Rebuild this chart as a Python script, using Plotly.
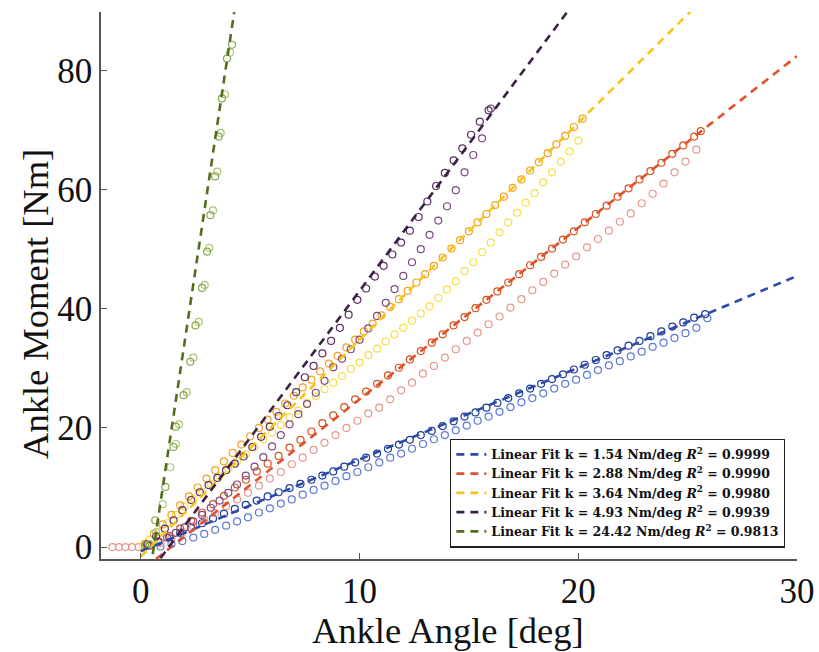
import plotly.graph_objects as go

# ---------------- data ----------------
fit_names = ["1.54", "2.88", "3.64", "4.93", "24.42"]
fit_r2 = ["0.9999", "0.9990", "0.9980", "0.9939", "0.9813"]
fit_k = [1.54, 2.88, 3.64, 4.93, 24.42]
fit_b = [-0.7, -4.0, -1.6, -6.3, -14.5]
fit_x0 = [0.0, 0.7, 0.0, 0.9, 0.45]
fit_x1 = [30.0, 30.0, 25.2, 19.5, 4.27]

# blue series
blue_up_x = [0.3, 0.8, 1.3, 1.8, 2.3, 2.8, 3.3, 3.8, 4.3, 4.8, 5.3, 5.8, 6.3, 6.8, 7.3, 7.8, 8.3, 8.8,
             9.3, 9.8, 10.3, 10.8, 11.3, 11.8, 12.3, 12.8, 13.3, 13.8, 14.3, 14.8, 15.3, 15.8, 16.3,
             16.8, 17.3, 17.8, 18.3, 18.8, 19.3, 19.8, 20.3, 20.8, 21.3, 21.8, 22.3, 22.8, 23.3, 23.8,
             24.3, 24.8, 25.3, 25.8]
blue_up_y = [0.3, 0.9, 1.6, 2.4, 3.2, 4.0, 4.8, 5.6, 6.4, 7.1, 7.8, 8.5, 9.2, 9.9, 10.6, 11.3, 12.0,
             12.7, 13.5, 14.2, 15.0, 15.7, 16.5, 17.2, 18.0, 18.8, 19.5, 20.3, 21.1, 21.9, 22.6, 23.4,
             24.2, 25.0, 25.8, 26.6, 27.4, 28.2, 29.0, 29.8, 30.6, 31.4, 32.2, 33.0, 33.8, 34.6, 35.4,
             36.2, 37.0, 37.7, 38.5, 39.1]
blue_dn_x = [25.9, 25.4, 24.9, 24.4, 23.9, 23.4, 22.9, 22.4, 21.9, 21.4, 20.9, 20.4, 19.9, 19.4, 18.9,
             18.4, 17.9, 17.4, 16.9, 16.4, 15.9, 15.4, 14.9, 14.4, 13.9, 13.4, 12.9, 12.4, 11.9, 11.4,
             10.9, 10.4, 9.9, 9.4, 8.9, 8.4, 7.9, 7.4, 6.9, 6.4, 5.9, 5.4, 4.9, 4.4, 3.9, 3.4, 2.9, 2.4,
             1.9, 1.4, 0.9]
blue_dn_y = [38.4, 36.8, 35.9, 35.1, 34.3, 33.6, 32.8, 32.0, 31.2, 30.5, 29.7, 28.9, 28.1, 27.4, 26.6,
             25.8, 25.0, 24.3, 23.5, 22.7, 21.9, 21.2, 20.4, 19.6, 18.8, 18.1, 17.3, 16.5, 15.7, 15.0,
             14.2, 13.4, 12.6, 11.9, 11.1, 10.3, 9.6, 8.8, 8.0, 7.3, 6.5, 5.8, 5.0, 4.3, 3.6, 2.9, 2.2,
             1.6, 1.0, 0.5, 0.1]

# red series
red_up_x = [0.3, 0.8, 1.3, 1.8, 2.3, 2.8, 3.3, 3.8, 4.3, 4.8, 5.3, 5.8, 6.3, 6.8, 7.3, 7.8, 8.3, 8.8,
            9.3, 9.8, 10.3, 10.8, 11.3, 11.8, 12.3, 12.8, 13.3, 13.8, 14.3, 14.8, 15.3, 15.8, 16.3,
            16.8, 17.3, 17.8, 18.3, 18.8, 19.3, 19.8, 20.3, 20.8, 21.3, 21.8, 22.3, 22.8, 23.3, 23.8,
            24.3, 24.8, 25.3, 25.6]
red_up_y = [0.3, 0.9, 1.9, 3.1, 4.4, 5.8, 7.2, 8.6, 10.0, 11.3, 12.7, 14.0, 15.3, 16.7, 18.0, 19.4,
            20.8, 22.1, 23.5, 24.8, 26.1, 27.4, 28.8, 30.1, 31.5, 32.9, 34.3, 35.7, 37.2, 38.6, 40.1,
            41.5, 42.9, 44.4, 45.8, 47.3, 48.7, 50.1, 51.6, 53.0, 54.5, 55.9, 57.3, 58.8, 60.2, 61.7,
            63.1, 64.5, 66.0, 67.4, 68.9, 69.8]
red_dn_x = [25.4, 24.9, 24.4, 23.9, 23.4, 22.9, 22.4, 21.9, 21.4, 20.9, 20.4, 19.9, 19.4, 18.9, 18.4,
            17.9, 17.4, 16.9, 16.4, 15.9, 15.4, 14.9, 14.4, 13.9, 13.4, 12.9, 12.4, 11.9, 11.4, 10.9,
            10.4, 9.9, 9.4, 8.9, 8.4, 7.9, 7.4, 6.9, 6.4, 5.9, 5.4, 4.9, 4.4, 3.9, 3.4, 2.9, 2.4, 1.9,
            1.4, 0.9, 0.4, -0.1, -0.4, -0.7, -1.0, -1.3]
red_dn_y = [66.7, 64.7, 62.9, 61.0, 59.3, 57.7, 56.0, 54.6, 53.1, 51.7, 50.3, 48.8, 47.4, 45.9, 44.5,
            43.1, 41.6, 40.2, 38.7, 37.4, 36.0, 34.6, 33.2, 31.8, 30.4, 29.1, 27.6, 26.3, 24.8, 23.4,
            22.4, 21.2, 20.0, 18.8, 17.5, 16.3, 15.0, 13.9, 12.6, 11.5, 10.3, 9.1, 8.0, 6.9, 5.7, 4.6,
            3.5, 2.5, 1.5, 0.7, 0.2, 0.0, 0.0, 0.0, 0.0, 0.0]

# yellow series
yel_up_x = [0.2, 0.6, 1.0, 1.4, 1.8, 2.2, 2.6, 3.0, 3.4, 3.8, 4.2, 4.6, 5.0, 5.4, 5.8, 6.2, 6.6, 7.0,
            7.4, 7.8, 8.2, 8.6, 9.0, 9.4, 9.8, 10.2, 10.6, 11.0, 11.4, 11.8, 12.2, 12.6, 13.0, 13.4,
            13.8, 14.2, 14.6, 15.0, 15.4, 15.8, 16.2, 16.6, 17.0, 17.4, 17.8, 18.2, 18.6, 19.0, 19.4,
            19.8, 20.2]
yel_up_y = [0.6, 2.2, 3.8, 5.4, 7.0, 8.5, 10.0, 11.5, 12.9, 14.4, 15.8, 17.2, 18.6, 20.0, 21.4, 22.7,
            24.1, 25.4, 26.8, 28.1, 29.5, 30.8, 32.1, 33.5, 34.8, 36.2, 37.5, 38.9, 40.3, 41.6, 43.0,
            44.4, 45.8, 47.2, 48.6, 50.1, 51.5, 53.0, 54.5, 55.9, 57.4, 58.8, 60.3, 61.7, 63.2, 64.6,
            66.1, 67.6, 69.0, 70.5, 71.9]
yel_dn_x = [20.0, 19.6, 19.2, 18.8, 18.4, 18.0, 17.6, 17.2, 16.8, 16.4, 16.0, 15.6, 15.2, 14.8, 14.4,
            14.0, 13.6, 13.2, 12.8, 12.4, 12.0, 11.6, 11.2, 10.8, 10.4, 10.0, 9.6, 9.2, 8.8, 8.4, 8.0,
            7.6, 7.2, 6.8, 6.4, 6.0, 5.6, 5.2, 4.8, 4.4, 4.0, 3.6, 3.2, 2.8, 2.4, 2.0, 1.6, 1.2, 0.8,
            0.4, 0.1]
yel_dn_y = [68.2, 66.4, 64.7, 62.9, 61.2, 59.4, 57.8, 56.1, 54.5, 52.8, 51.1, 49.5, 47.8, 46.3, 44.6,
            43.2, 41.8, 40.4, 39.2, 38.0, 36.8, 35.7, 34.5, 33.3, 32.2, 31.0, 29.9, 28.7, 27.6, 26.5,
            25.3, 24.2, 22.9, 21.8, 20.5, 19.2, 18.1, 16.8, 15.6, 14.4, 13.2, 11.9, 10.6, 9.3, 8.1, 6.8,
            5.4, 4.0, 2.6, 1.2, 0.2]

# purple series
pur_up_x = [0.3, 0.7, 1.1, 1.5, 1.9, 2.3, 2.7, 3.1, 3.5, 3.9, 4.3, 4.7, 5.1, 5.5, 5.9, 6.3, 6.7, 7.1,
            7.5, 7.9, 8.3, 8.7, 9.1, 9.5, 9.9, 10.3, 10.7, 11.1, 11.5, 11.9, 12.3, 12.7, 13.1, 13.5,
            13.9, 14.3, 14.7, 15.1, 15.5, 15.9]
pur_up_y = [0.5, 1.8, 3.1, 4.5, 6.2, 7.9, 9.2, 10.4, 11.6, 12.9, 14.0, 15.2, 16.8, 18.5, 20.2, 22.0,
            23.8, 26.0, 28.5, 30.4, 32.5, 34.6, 36.8, 39.0, 41.5, 43.4, 45.4, 47.2, 49.1, 51.1, 53.1,
            55.4, 58.0, 60.6, 62.8, 64.9, 66.9, 69.2, 71.4, 73.3]
pur_dn_x = [16.0, 15.6, 15.2, 14.8, 14.4, 14.0, 13.6, 13.2, 12.8, 12.4, 12.0, 11.6, 11.2, 10.8, 10.4,
            10.0, 9.6, 9.2, 8.8, 8.4, 8.0, 7.6, 7.2, 6.8, 6.4, 6.0, 5.6, 5.2, 4.8, 4.4, 4.0, 3.6, 3.2,
            2.8, 2.4, 2.0, 1.6, 1.2, 0.8, 0.4]
pur_dn_y = [73.6, 68.6, 65.8, 62.9, 59.9, 57.2, 54.8, 52.4, 50.0, 47.8, 45.5, 43.3, 41.0, 38.8, 36.7,
            34.8, 33.2, 31.6, 30.2, 27.9, 25.9, 24.0, 22.3, 20.6, 18.8, 16.9, 15.1, 13.5, 12.0, 10.5,
            9.1, 7.8, 6.6, 5.4, 4.3, 3.3, 2.4, 1.6, 0.9, 0.3]

# green series
grn_up_x = [0.2, 0.66, 1.12, 1.49, 1.6, 1.95, 2.26, 2.5, 2.8, 3.03, 3.18, 3.4, 3.56, 3.71, 3.94, 4.17]
grn_up_y = [0.3, 4.5, 10.1, 16.8, 20.2, 25.5, 31.1, 37.2, 43.5, 49.6, 55.7, 62.2, 68.9, 75.3, 82.0, 84.3]
grn_dn_x = [4.08, 3.85, 3.65, 3.5, 3.3, 3.13, 2.92, 2.65, 2.4, 2.1, 1.75, 1.6, 1.35, 1.0, 0.7, 0.4]
grn_dn_y = [83.0, 76.0, 69.5, 63.0, 56.5, 50.2, 44.0, 37.8, 31.8, 26.0, 20.6, 17.3, 13.4, 7.2, 2.5, 0.5]

x_ticks = [0, 10, 20, 30]
y_ticks = [0, 20, 40, 60, 80]
x_title = "Ankle Angle [deg]"
y_title = "Ankle Moment [Nm]"

# ---------------- styling ----------------
line_colors = ["#2c4aa8", "#e0502a", "#fbc21c", "#3e2149", "#526e1c"]
up_colors = ["#1f3c9c", "#d9501f", "#f5a01e", "#5a2f62", "#88a84a"]
dn_colors = ["#5a78d6", "#e6978c", "#f7df4a", "#7c4a82", "#a9c77a"]

series = [
    (blue_up_x, blue_up_y, blue_dn_x, blue_dn_y),
    (red_up_x, red_up_y, red_dn_x, red_dn_y),
    (yel_up_x, yel_up_y, yel_dn_x, yel_dn_y),
    (pur_up_x, pur_up_y, pur_dn_x, pur_dn_y),
    (grn_up_x, grn_up_y, grn_dn_x, grn_dn_y),
]

fig = go.Figure()

for i, (ux, uy, dx, dy) in enumerate(series):
    fig.add_trace(go.Scatter(x=dx, y=dy, mode="markers", showlegend=False, hoverinfo="skip",
                             marker=dict(symbol="circle-open", size=7, color=dn_colors[i],
                                         line=dict(width=1.2, color=dn_colors[i]))))
    fig.add_trace(go.Scatter(x=ux, y=uy, mode="markers", showlegend=False, hoverinfo="skip",
                             marker=dict(symbol="circle-open", size=7, color=up_colors[i],
                                         line=dict(width=1.2, color=up_colors[i]))))

for i in range(5):
    xs = [fit_x0[i], fit_x1[i]]
    ys = [fit_k[i] * v + fit_b[i] for v in xs]
    label = ("Linear Fit k = %s Nm/deg <i>R</i><sup>2</sup> = %s" % (fit_names[i], fit_r2[i]))
    fig.add_trace(go.Scatter(x=xs, y=ys, mode="lines", name=label,
                             line=dict(color=line_colors[i], width=2.6, dash="8px,6px")))

serif = "Liberation Serif, Times New Roman, serif"
axis_common = dict(showline=True, linecolor="#555555", linewidth=1.5, ticks="inside", ticklen=6,
                   tickwidth=1.2, tickcolor="#555555", showgrid=False, zeroline=False,
                   tickfont=dict(family=serif, size=35, color="#111111"), automargin=False)

fig.update_layout(
    width=819, height=652, template="none",
    paper_bgcolor="white", plot_bgcolor="white",
    margin=dict(l=101, r=22, t=12, b=93),
    xaxis=dict(range=[-1.82, 30.0], tickvals=x_ticks, ticktext=[str(v) for v in x_ticks],
               **axis_common),
    yaxis=dict(range=[-2.0, 89.8], tickvals=y_ticks, ticktext=[str(v) for v in y_ticks],
               **axis_common),
    legend=dict(x=0.983, y=0.021, xanchor="right", yanchor="bottom",
                bgcolor="white", bordercolor="#222222", borderwidth=1.2,
                font=dict(family="DejaVu Serif, serif", size=12.5, color="#111111", weight="bold"),
                tracegroupgap=0, itemwidth=30),
    showlegend=True,
    annotations=[
        dict(text=x_title, xref="paper", yref="paper", x=0.498, y=-0.130, xanchor="center",
             yanchor="middle", showarrow=False, font=dict(family=serif, size=36.5, color="#111111")),
        dict(text=y_title, xref="paper", yref="paper", x=-0.095, y=0.466, xanchor="center",
             yanchor="middle", textangle=-90, showarrow=False,
             font=dict(family=serif, size=36.5, color="#111111")),
    ],
)

fig.write_html("out.html", config={"displayModeBar": False},
               post_script="document.body.style.margin='0';document.body.style.padding='0';")
